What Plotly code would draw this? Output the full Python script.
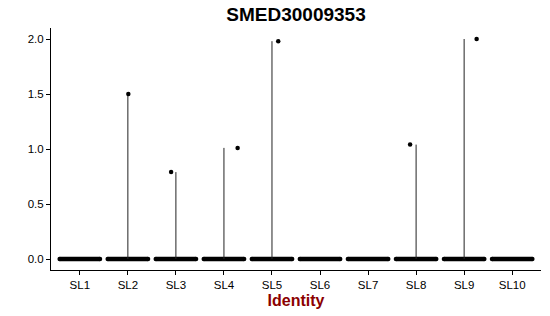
import plotly.graph_objects as go

# ---- data ----
categories = ["SL1", "SL2", "SL3", "SL4", "SL5", "SL6", "SL7", "SL8", "SL9", "SL10"]
max_expr = [0.0, 1.50, 0.79, 1.01, 1.98, 0.0, 0.0, 1.04, 2.00, 0.0]        # violin top (max value)
outlier_val = [None, 1.50, 0.79, 1.01, 1.98, None, None, 1.04, 2.00, None]   # highest jittered point
outlier_jitter = [None, 0.01, -0.10, 0.285, 0.13, None, None, -0.125, 0.26, None]  # horizontal offset of that point
y_ticks = [0.0, 0.5, 1.0, 1.5, 2.0]
title_text = "SMED30009353"
x_label = "Identity"

JITTER = 0.42  # half-width of the jittered band of zero points (style)

fig = go.Figure()
pos = list(range(1, len(categories) + 1))

# band of jittered zero-valued points
for p in pos:
    fig.add_trace(go.Scatter(x=[p - JITTER, p + JITTER], y=[0, 0], mode="lines+markers",
                             line=dict(color="black", width=4.5),
                             marker=dict(color="black", size=4.5),
                             hoverinfo="skip", showlegend=False))

# violin spikes (zero-width violins reaching the max)
for p, m in zip(pos, max_expr):
    if m > 0:
        fig.add_trace(go.Scatter(x=[p, p], y=[0, m], mode="lines",
                                 line=dict(color="#222222", width=1), hoverinfo="skip",
                                 showlegend=False))

# outlying points
ox = [p + j for p, j, v in zip(pos, outlier_jitter, outlier_val) if v is not None]
oy = [v for v in outlier_val if v is not None]
fig.add_trace(go.Scatter(x=ox, y=oy, mode="markers",
                         marker=dict(color="black", size=4.5), showlegend=False))

font_family = "Liberation Sans, Arial, sans-serif"
fig.update_layout(
    width=550, height=316,
    margin=dict(l=51, r=9, t=28, b=46),
    paper_bgcolor="white", plot_bgcolor="white",
    font=dict(family=font_family, color="black", size=11.5),
    title=dict(text="<b>" + title_text + "</b>", x=(51 + 541) / 2 / 550, xanchor="center",
               y=1 - 14 / 316, yanchor="middle", yref="container",
               font=dict(size=19, color="black", family=font_family)),
    showlegend=False,
)
fig.update_xaxes(range=[0.4, 10.6], tickvals=pos, ticktext=categories,
                 showline=True, linecolor="black", linewidth=1,
                 ticks="outside", ticklen=4, tickcolor="black",
                 showgrid=False, zeroline=False,
                 tickfont=dict(size=11.5, color="black"),
                 title=dict(text="<b>" + x_label + "</b>", standoff=5,
                            font=dict(size=16, color="#8B0000")))
fig.update_yaxes(range=[-0.1, 2.1], tickvals=y_ticks,
                 ticktext=[f"{v:.1f}" for v in y_ticks],
                 showline=True, linecolor="black", linewidth=1,
                 ticks="outside", ticklen=4, tickcolor="black",
                 showgrid=False, zeroline=False,
                 tickfont=dict(size=11.5, color="black"))

fig.write_html("out.html")
